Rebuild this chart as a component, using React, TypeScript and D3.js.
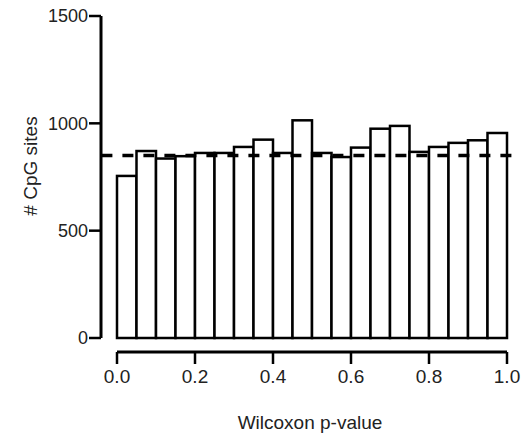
import React, { useEffect, useRef } from 'react';
import * as d3 from 'd3';

// histogram of Wilcoxon p-values, 20 bins of width 0.05
const binStarts = d3.range(20).map(i => i * 0.05);
const counts = [755, 871, 836, 847, 862, 862, 890, 924, 862, 1014, 862, 843, 887, 975, 988, 867, 890, 909, 921, 955];
const expected = 850;
const yTicks = [0, 500, 1000, 1500];
const xTicks = [0, 0.2, 0.4, 0.6, 0.8, 1.0];

export default function App() {
  const svgRef = useRef<SVGSVGElement>(null);

  useEffect(() => {
    if (!svgRef.current) return;
    const svg = d3.select(svgRef.current);
    svg.selectAll('*').remove();

    const font = 'Liberation Sans, Arial, Helvetica, sans-serif';
    const ink = '#000';
    const textColor = '#222';

    const x = d3.scaleLinear().domain([0, 1]).range([117, 507]);
    const y = d3.scaleLinear().domain([0, 1500]).range([338, 16]);
    const axisX = 101;
    const xAxisY = 352;

    // Bars
    svg.append('g')
      .selectAll('rect')
      .data(counts)
      .enter()
      .append('rect')
      .attr('x', (_, i) => x(binStarts[i]))
      .attr('y', d => y(d))
      .attr('width', x(0.05) - x(0))
      .attr('height', d => y(0) - y(d))
      .attr('fill', '#fff')
      .attr('stroke', ink)
      .attr('stroke-width', 2.5);

    // Expected count reference line
    svg.append('line')
      .attr('x1', x(-0.04))
      .attr('x2', x(1.02))
      .attr('y1', y(expected))
      .attr('y2', y(expected))
      .attr('stroke', ink)
      .attr('stroke-width', 3.5)
      .attr('stroke-dasharray', '11,10');

    // Y axis
    const yAxis = svg.append('g');
    yAxis.append('line')
      .attr('x1', axisX).attr('x2', axisX)
      .attr('y1', y(1500)).attr('y2', y(0))
      .attr('stroke', ink).attr('stroke-width', 3);
    const yt = yAxis.selectAll('.yt').data(yTicks).enter().append('g');
    yt.append('line')
      .attr('x1', axisX - 12).attr('x2', axisX)
      .attr('y1', d => y(d)).attr('y2', d => y(d))
      .attr('stroke', ink).attr('stroke-width', 2.5);
    yt.append('text')
      .attr('x', axisX - 13)
      .attr('y', d => y(d))
      .attr('dy', '0.36em')
      .attr('text-anchor', 'end')
      .attr('font-family', font)
      .attr('font-size', 18)
      .attr('fill', textColor)
      .text(d => d);

    // X axis (offset below bars)
    const xAxis = svg.append('g');
    xAxis.append('line')
      .attr('x1', x(0)).attr('x2', x(1))
      .attr('y1', xAxisY).attr('y2', xAxisY)
      .attr('stroke', ink).attr('stroke-width', 3);
    const xt = xAxis.selectAll('.xt').data(xTicks).enter().append('g');
    xt.append('line')
      .attr('x1', d => x(d)).attr('x2', d => x(d))
      .attr('y1', xAxisY).attr('y2', xAxisY + 12)
      .attr('stroke', ink).attr('stroke-width', 2.5);
    xt.append('text')
      .attr('x', d => x(d))
      .attr('y', 383)
      .attr('text-anchor', 'middle')
      .attr('font-family', font)
      .attr('font-size', 19)
      .attr('fill', textColor)
      .text(d => d3.format('.1f')(d));

    // Axis titles
    svg.append('text')
      .attr('x', 310)
      .attr('y', 429)
      .attr('text-anchor', 'middle')
      .attr('font-family', font)
      .attr('font-size', 19)
      .attr('fill', textColor)
      .text('Wilcoxon p-value');

    svg.append('text')
      .attr('transform', 'translate(37,166) rotate(-90)')
      .attr('text-anchor', 'middle')
      .attr('font-family', font)
      .attr('font-size', 19)
      .attr('fill', textColor)
      .text('# CpG sites');
  }, []);

  return (
    <svg
      ref={svgRef}
      width={529}
      height={435}
      style={{ position: 'absolute', left: 0, top: 0, background: '#fff' }}
    />
  );
}
